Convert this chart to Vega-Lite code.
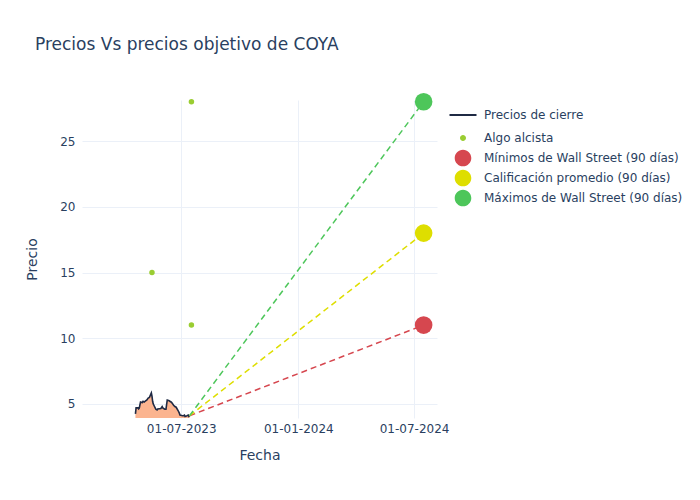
{
  "$schema": "https://vega.github.io/schema/vega-lite/v6.json",
  "width": 355,
  "height": 318,
  "autosize": {"type": "none"},
  "padding": {"left": 82, "top": 100, "right": 263, "bottom": 82},
  "background": "white",
  "title": {
    "text": "Precios Vs precios objetivo de COYA",
    "anchor": "start",
    "frame": "group",
    "dx": -47,
    "offset": 39,
    "fontSize": 17,
    "fontWeight": "normal",
    "font": "DejaVu Sans",
    "color": "#2a3f5f"
  },
  "config": {
    "view": {"stroke": null},
    "font": "DejaVu Sans",
    "axis": {
      "labelColor": "#2a3f5f",
      "titleColor": "#2a3f5f",
      "titleFontWeight": "normal",
      "titleFontSize": 14,
      "labelFontSize": 12,
      "gridColor": "#ebf0f8",
      "gridWidth": 1,
      "domain": false,
      "ticks": false,
      "labelFont": "DejaVu Sans",
      "titleFont": "DejaVu Sans"
    },
    "legend": {
      "orient": "none",
      "legendX": 375,
      "legendY": 9,
      "labelFontSize": 12,
      "labelColor": "#2a3f5f",
      "labelFont": "DejaVu Sans",
      "labelLimit": 400,
      "labelOffset": 15,
      "rowPadding": 0,
      "symbolSize": 400,
      "title": null
    }
  },
  "datasets": {
    "precios": [
      {"fecha": "2023-04-20", "cierre": 4.25},
      {"fecha": "2023-04-21", "cierre": 4.7},
      {"fecha": "2023-04-24", "cierre": 4.7},
      {"fecha": "2023-04-25", "cierre": 4.62},
      {"fecha": "2023-04-26", "cierre": 4.68},
      {"fecha": "2023-04-28", "cierre": 5.15},
      {"fecha": "2023-05-01", "cierre": 5.1},
      {"fecha": "2023-05-02", "cierre": 5.2},
      {"fecha": "2023-05-04", "cierre": 5.15},
      {"fecha": "2023-05-05", "cierre": 5.2},
      {"fecha": "2023-05-08", "cierre": 5.3},
      {"fecha": "2023-05-10", "cierre": 5.45},
      {"fecha": "2023-05-12", "cierre": 5.5},
      {"fecha": "2023-05-15", "cierre": 5.84},
      {"fecha": "2023-05-16", "cierre": 5.6},
      {"fecha": "2023-05-17", "cierre": 5.2},
      {"fecha": "2023-05-18", "cierre": 5.0},
      {"fecha": "2023-05-19", "cierre": 4.9},
      {"fecha": "2023-05-22", "cierre": 4.6},
      {"fecha": "2023-05-24", "cierre": 4.55},
      {"fecha": "2023-05-25", "cierre": 4.62},
      {"fecha": "2023-05-30", "cierre": 4.65},
      {"fecha": "2023-06-01", "cierre": 4.8},
      {"fecha": "2023-06-02", "cierre": 4.7},
      {"fecha": "2023-06-05", "cierre": 4.6},
      {"fecha": "2023-06-07", "cierre": 4.6},
      {"fecha": "2023-06-09", "cierre": 5.3},
      {"fecha": "2023-06-12", "cierre": 5.25},
      {"fecha": "2023-06-13", "cierre": 5.2},
      {"fecha": "2023-06-15", "cierre": 5.15},
      {"fecha": "2023-06-16", "cierre": 5.1},
      {"fecha": "2023-06-19", "cierre": 4.9},
      {"fecha": "2023-06-21", "cierre": 4.8},
      {"fecha": "2023-06-23", "cierre": 4.75},
      {"fecha": "2023-06-26", "cierre": 4.5},
      {"fecha": "2023-06-28", "cierre": 4.3},
      {"fecha": "2023-06-29", "cierre": 4.15},
      {"fecha": "2023-07-03", "cierre": 4.1},
      {"fecha": "2023-07-05", "cierre": 4.12},
      {"fecha": "2023-07-06", "cierre": 4.15},
      {"fecha": "2023-07-07", "cierre": 4.05},
      {"fecha": "2023-07-10", "cierre": 4.1},
      {"fecha": "2023-07-12", "cierre": 4.15},
      {"fecha": "2023-07-13", "cierre": 4.05},
      {"fecha": "2023-07-14", "cierre": 4.1}
    ],
    "objetivos": [
      {"serie": "Mínimos de Wall Street (90 días)", "fecha": "2023-07-14", "precio": 4.1},
      {"serie": "Mínimos de Wall Street (90 días)", "fecha": "2024-07-16", "precio": 11},
      {"serie": "Calificación promedio (90 días)", "fecha": "2023-07-14", "precio": 4.1},
      {"serie": "Calificación promedio (90 días)", "fecha": "2024-07-16", "precio": 18},
      {"serie": "Máximos de Wall Street (90 días)", "fecha": "2023-07-14", "precio": 4.1},
      {"serie": "Máximos de Wall Street (90 días)", "fecha": "2024-07-16", "precio": 28}
    ],
    "puntos": [
      {"serie": "Mínimos de Wall Street (90 días)", "fecha": "2024-07-16", "precio": 11},
      {"serie": "Calificación promedio (90 días)", "fecha": "2024-07-16", "precio": 18},
      {"serie": "Máximos de Wall Street (90 días)", "fecha": "2024-07-16", "precio": 28}
    ],
    "alcista": [
      {"serie": "Algo alcista", "fecha": "2023-05-16", "precio": 15},
      {"serie": "Algo alcista", "fecha": "2023-07-17", "precio": 11},
      {"serie": "Algo alcista", "fecha": "2023-07-17", "precio": 28}
    ]
  },
  "encoding": {
    "x": {
      "field": "fecha",
      "type": "temporal",
      "title": "Fecha",
      "scale": {"type": "utc", "domain": ["2023-01-26", "2024-08-06"], "nice": false},
      "axis": {
        "values": [
          {"year": 2023, "month": 7, "date": 1, "utc": true},
          {"year": 2024, "month": 1, "date": 1, "utc": true},
          {"year": 2024, "month": 7, "date": 1, "utc": true}
        ],
        "labelExpr": "utcFormat(datum.value, '%d-%m-%Y')",
        "labelPadding": 5,
        "titlePadding": 14
      }
    }
  },
  "layer": [
    {
      "data": {"name": "precios"},
      "mark": {"type": "area", "color": "#fbb48f", "opacity": 1, "clip": true},
      "encoding": {
        "y": {
          "field": "cierre",
          "type": "quantitative",
          "title": "Precio",
          "scale": {"domain": [3.93, 28.13], "nice": false, "zero": false},
          "axis": {"values": [5, 10, 15, 20, 25], "labelPadding": 7, "titlePadding": 20}
        }
      }
    },
    {
      "data": {"name": "precios"},
      "mark": {"type": "line", "strokeWidth": 1.6, "clip": true},
      "encoding": {
        "y": {"field": "cierre", "type": "quantitative"},
        "color": {
          "datum": "Precios de cierre",
          "type": "nominal",
          "scale": {
            "domain": ["Precios de cierre", "Algo alcista", "Mínimos de Wall Street (90 días)", "Calificación promedio (90 días)", "Máximos de Wall Street (90 días)"],
            "range": ["#1f2a44", "#9acd32", "#d6474f", "#dede00", "#4dc65a"]
          },
          "legend": {
            "encode": {
              "symbols": {
                "update": {
                  "shape": {"signal": "datum.value === 'Precios de cierre' ? 'M-1.35,0L1.35,0ZM0,-0.85L0,-0.85ZM0,0.85L0,0.85Z' : datum.value === 'Algo alcista' ? 'M-0.3,0A0.3,0.3 0 1,0 0.3,0A0.3,0.3 0 1,0 -0.3,0ZM0,-0.93L0,-0.93ZM0,0.93L0,0.93Z' : 'M-0.83,0A0.83,0.83 0 1,0 0.83,0A0.83,0.83 0 1,0 -0.83,0ZM0,-0.93L0,-0.93ZM0,0.93L0,0.93Z'"},
                  "size": {"value": 400},
                  "fill": {"signal": "datum.value === 'Precios de cierre' ? 'transparent' : scale('color', datum.value)"},
                  "stroke": {"signal": "datum.value === 'Precios de cierre' ? scale('color', datum.value) : 'transparent'"},
                  "strokeWidth": {"signal": "datum.value === 'Precios de cierre' ? 2 : 0"},
                  "opacity": {"value": 1},
                  "strokeDash": {"value": []}
                }
              }
            }
          }
        }
      }
    },
    {
      "data": {"name": "objetivos"},
      "mark": {"type": "line", "strokeDash": [6, 4], "strokeWidth": 1.5, "clip": true},
      "encoding": {
        "y": {"field": "precio", "type": "quantitative"},
        "color": {"field": "serie", "type": "nominal"}
      }
    },
    {
      "data": {"name": "alcista"},
      "mark": {"type": "point", "filled": true, "size": 30, "opacity": 1},
      "encoding": {
        "y": {"field": "precio", "type": "quantitative"},
        "color": {"field": "serie", "type": "nominal"}
      }
    },
    {
      "data": {"name": "puntos"},
      "mark": {"type": "point", "filled": true, "size": 310, "opacity": 1},
      "encoding": {
        "y": {"field": "precio", "type": "quantitative"},
        "color": {"field": "serie", "type": "nominal"}
      }
    }
  ]
}
